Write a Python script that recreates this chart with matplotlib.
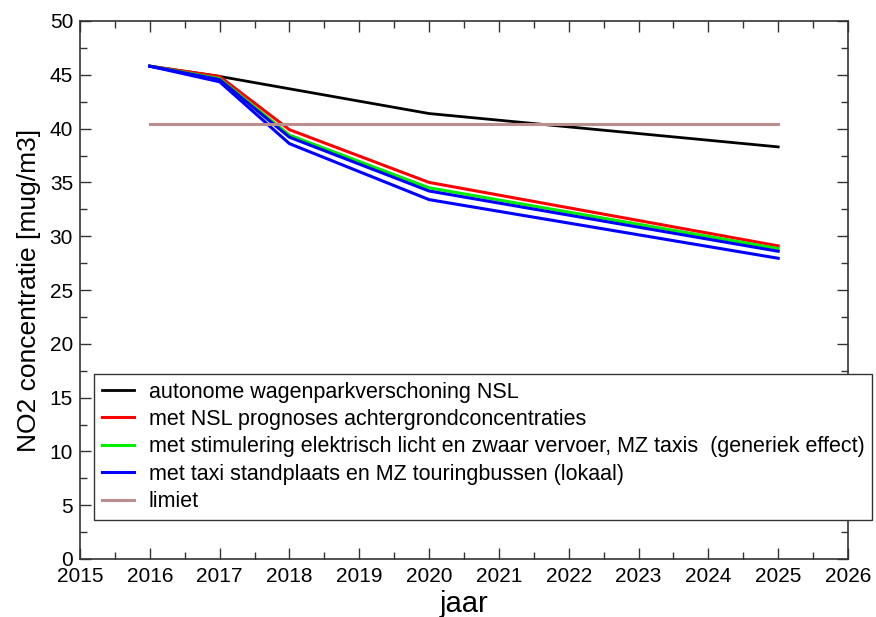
import matplotlib
matplotlib.use("Agg")
import matplotlib.pyplot as plt
from matplotlib.ticker import MultipleLocator

plt.rcParams['font.family'] = ['Liberation Sans', 'DejaVu Sans']

jaren = [2016, 2017, 2018, 2020, 2025]
autonoom = [45.8, 44.85, 43.7, 41.4, 38.3]
nsl_prognose = [45.8, 44.85, 39.9, 35.0, 29.1]
stimulering = [45.8, 44.65, 39.4, 34.5, 28.85]
taxi_extra = [45.8, 44.55, 39.2, 34.2, 28.6]
taxi_standplaats = [45.8, 44.35, 38.6, 33.4, 27.95]
limiet_jaren = [2016, 2025]
limiet = [40.45, 40.45]

labels = ["autonome wagenparkverschoning NSL",
          "met NSL prognoses achtergrondconcentraties",
          "met stimulering elektrisch licht en zwaar vervoer, MZ taxis  (generiek effect)",
          "met taxi standplaats en MZ touringbussen (lokaal)",
          "limiet"]

fig = plt.figure(figsize=(8.76, 6.17), dpi=100)
ax = fig.add_axes([80/876, 58/617, 768/876, 538/617])

h1, = ax.plot(jaren, autonoom, color='black', lw=2)
h2, = ax.plot(jaren, nsl_prognose, color='#ff0000', lw=2.2)
h3, = ax.plot(jaren, stimulering, color='#00ee00', lw=2.2)
ax.plot(jaren, taxi_extra, color='#0000ff', lw=2.2)
h4, = ax.plot(jaren, taxi_standplaats, color='#0000ff', lw=2.2)
h5, = ax.plot(limiet_jaren, limiet, color='#bc8f8f', lw=2.2)

ax.set_xlim(2015, 2026)
ax.set_ylim(0, 50)
ax.xaxis.set_major_locator(MultipleLocator(1))
ax.xaxis.set_minor_locator(MultipleLocator(0.5))
ax.yaxis.set_major_locator(MultipleLocator(5))
ax.yaxis.set_minor_locator(MultipleLocator(2.5))
ax.tick_params(which='both', direction='in', top=True, right=True,
               labelsize=15, color='#333333')
ax.tick_params(which='major', length=8, width=1)
ax.tick_params(which='minor', length=5, width=1)
ax.tick_params(axis='x', pad=6)
ax.tick_params(axis='y', pad=5)
for s in ax.spines.values():
    s.set_color('#333333')
    s.set_linewidth(1.2)

ax.set_xlabel('jaar', fontsize=21, labelpad=3)
ax.set_ylabel('NO2 concentratie [mug/m3]', fontsize=19, labelpad=6)

leg = ax.legend([h1, h2, h3, h4, h5], labels, fontsize=15.5,
                loc='upper left', bbox_to_anchor=(94/876, 1 - 374/617),
                bbox_transform=fig.transFigure, borderaxespad=0,
                fancybox=False, framealpha=1, edgecolor='#333333',
                handlelength=1.5, handletextpad=0.7,
                borderpad=0.35, labelspacing=0.3)
leg.get_frame().set_linewidth(1.0)

fig.savefig('out.png', dpi=100)
